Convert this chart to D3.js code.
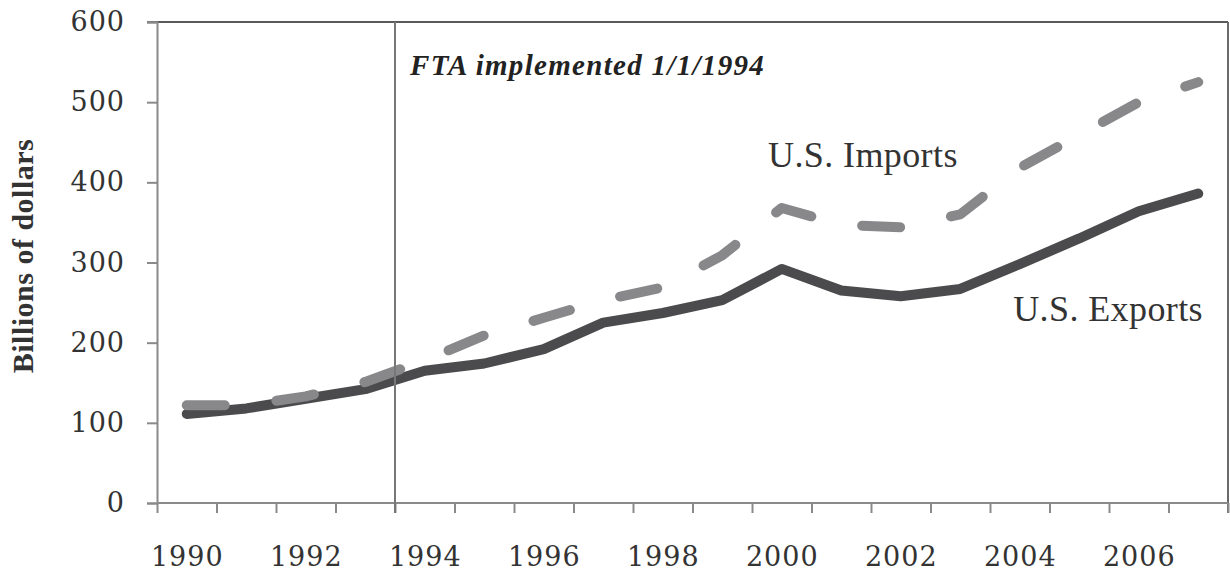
<!DOCTYPE html>
<html><head><meta charset="utf-8">
<script src="https://cdn.jsdelivr.net/npm/d3@7"></script>
<style>
html,body{margin:0;padding:0;background:#fff;}
text{font-family:"Liberation Serif","DejaVu Serif",serif;}
</style></head>
<body><svg id="c" width="1230" height="578"></svg>
<script>
const years = [1990,1991,1992,1993,1994,1995,1996,1997,1998,1999,2000,2001,2002,2003,2004,2005,2006,2007];
const exportsVals = [111,118,130,142,165,174,192,225,237,253,292,265,258,267,298,330,364,386];
const importsVals = [122,122,133,151,178,209,231,253,269,309,368,347,344,360,418,459,500,525];
const yTicks = [0,100,200,300,400,500,600];
const xLabelYears = [1990,1992,1994,1996,1998,2000,2002,2004,2006];
const ftaYear = 1994;

const svg = d3.select("#c");
const L=157, R=1228, T=22, B=503;
const x = d3.scaleLinear().domain([1990,2008]).range([L,R]);
const y = d3.scaleLinear().domain([0,600]).range([B,T]);

// frame top & right
svg.append("line").attr("x1",L-10).attr("x2",R).attr("y1",T).attr("y2",T)
  .attr("stroke","#5a5a5a").attr("stroke-width",2);
svg.append("line").attr("x1",R).attr("x2",R).attr("y1",T).attr("y2",B+10)
  .attr("stroke","#6a6a6a").attr("stroke-width",2);

// y axis
const ya = svg.append("g").attr("transform",`translate(${L},0)`)
  .call(d3.axisLeft(y).tickValues(yTicks).tickSize(10).tickPadding(22).tickFormat(d3.format("d")));
ya.select(".domain").attr("stroke","#8a8a8a").attr("stroke-width",2);
ya.selectAll(".tick line").attr("stroke","#8a8a8a").attr("stroke-width",2);
ya.selectAll(".tick text").attr("fill","#333").attr("letter-spacing",1)
  .style("font-family","'DejaVu Serif',serif").style("font-size","27px");

// x axis ticks
const xa = svg.append("g").attr("transform",`translate(0,${B})`)
  .call(d3.axisBottom(x).tickValues(d3.range(1990,2009)).tickSize(10).tickFormat(""));
xa.select(".domain").attr("stroke","#8a8a8a").attr("stroke-width",2).attr("d",`M${L},0H${R}`);
xa.selectAll(".tick line").attr("stroke","#8a8a8a").attr("stroke-width",2);
// x labels
const xl = svg.append("g").attr("transform",`translate(0,${B})`)
  .call(d3.axisBottom(x).tickValues(xLabelYears.map(v=>v+0.5)).tickSize(0).tickPadding(44)
    .tickFormat(d=>String(Math.floor(d))));
xl.select(".domain").remove();
xl.selectAll(".tick text").attr("fill","#333").attr("letter-spacing",1)
  .style("font-family","'DejaVu Serif',serif").style("font-size","27px");

// y axis title
svg.append("text").attr("transform",`translate(33,256) rotate(-90)`)
  .attr("text-anchor","middle").attr("font-weight","bold").attr("font-size",30).attr("fill","#333")
  .attr("letter-spacing",0.5).text("Billions of dollars");

const line = d3.line().x((d,i)=>x(years[i]+0.5)).y(d=>y(d));

svg.append("path").datum(exportsVals).attr("d",line).attr("fill","none")
  .attr("stroke","#4b4b4d").attr("stroke-width",10).attr("stroke-linejoin","round").attr("stroke-linecap","round");
svg.append("path").datum(importsVals).attr("d",line).attr("fill","none")
  .attr("stroke","#88888b").attr("stroke-width",10).attr("stroke-linejoin","round").attr("stroke-linecap","round")
  .attr("stroke-dasharray","38,52");

// FTA line
svg.append("line").attr("x1",x(ftaYear)).attr("x2",x(ftaYear)).attr("y1",T).attr("y2",B+10)
  .attr("stroke","#777").attr("stroke-width",2);

svg.append("text").attr("x",x(ftaYear)+15).attr("y",75).attr("font-weight","bold").attr("font-style","italic")
  .attr("font-size",29).attr("letter-spacing",1.3).attr("fill","#222").text("FTA implemented 1/1/1994");
svg.append("text").attr("x",768).attr("y",167).attr("font-size",36).attr("letter-spacing",0.4).attr("fill","#333").text("U.S. Imports");
svg.append("text").attr("x",1203).attr("y",321).attr("text-anchor","end").attr("font-size",36).attr("letter-spacing",0.4).attr("fill","#333").text("U.S. Exports");
</script></body></html>
